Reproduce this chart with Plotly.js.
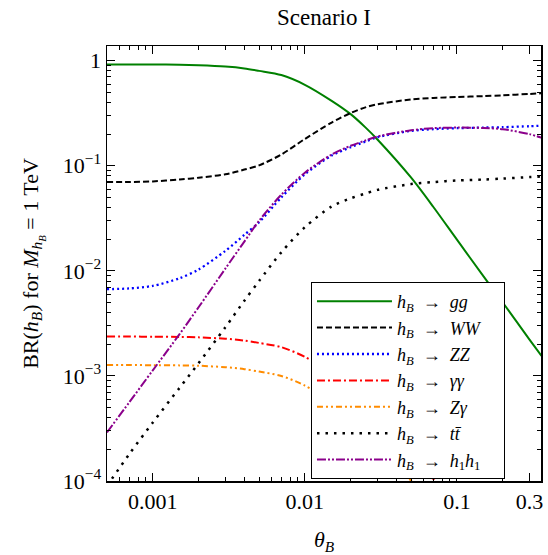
<!DOCTYPE html>
<html>
<head>
<meta charset="utf-8">
<script src="https://cdn.plot.ly/plotly-3.0.1.min.js"></script>
<style>
  html, body { margin: 0; padding: 0; background: #fff; }
  #chart { width: 548px; height: 555px; }
</style>
</head>
<body>
<div id="chart"></div>
<script>
// Mixing angle grid
const theta = [0.0005, 0.0007, 0.001, 0.0015, 0.002, 0.003, 0.004, 0.005, 0.007, 0.01,
               0.015, 0.02, 0.025, 0.03, 0.05, 0.07, 0.1, 0.15, 0.2, 0.3, 0.36];

// Branching ratios of h_B (M = 1 TeV)
const brGG   = [0.92, 0.92, 0.92, 0.915, 0.905, 0.88, 0.845, 0.80, 0.73, 0.59,
                0.415, 0.31, 0.232, 0.178, 0.077, 0.0405, 0.0198, 0.0088, 0.0050, 0.00222, 0.00155];
const brWW   = [0.070, 0.070, 0.071, 0.074, 0.077, 0.083, 0.092, 0.101, 0.128, 0.18,
                0.258, 0.318, 0.36, 0.385, 0.428, 0.442, 0.452, 0.46, 0.468, 0.483, 0.49];
const brZZ   = [0.0067, 0.0068, 0.0072, 0.0085, 0.0103, 0.0155, 0.022, 0.029, 0.050, 0.083,
                0.125, 0.15, 0.17, 0.187, 0.215, 0.223, 0.228, 0.231, 0.233, 0.238, 0.241];
const brAA   = [2.37e-3, 2.37e-3, 2.36e-3, 2.35e-3, 2.33e-3, 2.26e-3, 2.17e-3, 2.06e-3, 1.88e-3, 1.52e-3,
                1.07e-3, 8.0e-4, 6.0e-4, 4.6e-4, 1.98e-4, 1.04e-4, 5.0e-5, 2.2e-5, 1.3e-5, 5.7e-6, 4.0e-6];
const brZA   = [1.27e-3, 1.27e-3, 1.265e-3, 1.26e-3, 1.25e-3, 1.21e-3, 1.16e-3, 1.10e-3, 1.0e-3, 8.1e-4,
                5.7e-4, 4.3e-4, 3.2e-4, 2.4e-4, 1.0e-4, 5.4e-5, 2.7e-5, 1.2e-5, 7.0e-6, 3.0e-6, 2.0e-6];
const brTT   = [9.0e-5, 1.8e-4, 3.6e-4, 7.7e-4, 1.32e-3, 2.9e-3, 5.2e-3, 8.0e-3, 0.0150, 0.026,
                0.041, 0.049, 0.0545, 0.059, 0.067, 0.070, 0.0725, 0.074, 0.0755, 0.078, 0.079];
const brH1H1 = [2.9e-4, 5.6e-4, 1.13e-3, 2.5e-3, 4.5e-3, 0.0105, 0.019, 0.030, 0.053, 0.086,
                0.128, 0.155, 0.174, 0.19, 0.218, 0.228, 0.231, 0.229, 0.223, 0.200, 0.185];

const NB = '\u00a0';
const hB = '<i>h</i><sub><i>B</i></sub>';
const arrow = NB + NB + '→' + NB + NB;
const channelNames = [
  hB + arrow + '<i>gg</i>',
  hB + arrow + '<i>WW</i>',
  hB + arrow + '<i>ZZ</i>',
  hB + arrow + '<i>γγ</i>',
  hB + arrow + '<i>Zγ</i>',
  hB + arrow + '<i>tt̄</i>',
  hB + arrow + '<i>h</i><sub>1</sub><i>h</i><sub>1</sub>' + NB + NB + NB + NB
];

const xTickVals = [0.001, 0.01, 0.1, 0.3];
const xTickText = ['0.001', '0.01', '0.1', '0.3'];
const yTickVals = [1e-4, 1e-3, 1e-2, 1e-1, 1];
const yTickText = ['10<sup>−4</sup>', '10<sup>−3</sup>', '10<sup>−2</sup>', '10<sup>−1</sup>', '1'];

const series = [brGG, brWW, brZZ, brAA, brZA, brTT, brH1H1];
const lineStyles = [
  { color: '#008000', width: 2,   dash: 'solid' },
  { color: '#000000', width: 2,   dash: '6px,3px' },
  { color: '#0000ff', width: 2.3, dash: '2px,3px' },
  { color: '#ff0000', width: 2,   dash: '8px,3px,2px,3px' },
  { color: '#ff8c00', width: 2,   dash: '6px,3px,2px,3px,2px,3px' },
  { color: '#000000', width: 2.5, dash: '2.5px,6px' },
  { color: '#8b008b', width: 2,   dash: '9px,2px,2px,2px,2px,2px' }
];

const traces = series.map((ys, i) => ({
  type: 'scatter',
  mode: 'lines',
  x: theta,
  y: ys,
  name: channelNames[i],
  line: Object.assign({ shape: 'spline', smoothing: 0.8 }, lineStyles[i])
}));

// empty trace that puts the minor-tick axes on the page
traces.push({
  type: 'scatter', mode: 'lines', x: [], y: [],
  xaxis: 'x2', yaxis: 'y2', showlegend: false, hoverinfo: 'skip'
});

// minor ticks: 2..9 times each decade
function minorTicks(lo, hi) {
  const out = [];
  for (let e = lo; e <= hi; e++) {
    for (let m = 2; m <= 9; m++) out.push(m * Math.pow(10, e));
  }
  return out;
}

const FONT = 'Liberation Serif, DejaVu Serif, serif';
const X_RANGE = [Math.log10(0.0005), Math.log10(0.357)];
const Y_RANGE = [-4, 0.14];

const layout = {
  width: 548,
  height: 555,
  paper_bgcolor: '#ffffff',
  plot_bgcolor: '#ffffff',
  margin: { l: 107, r: 7, t: 46, b: 74 },
  font: { family: FONT, color: '#000', size: 21 },
  title: {
    text: 'Scenario I',
    font: { family: FONT, size: 23, color: '#000' },
    x: 0.5, xref: 'paper', xanchor: 'center',
    y: 1 - 17 / 555, yref: 'container', yanchor: 'middle'
  },
  showlegend: true,
  legend: {
    x: 0.47, y: 0.4575, xanchor: 'left', yanchor: 'top',
    bgcolor: '#ffffff', bordercolor: '#000', borderwidth: 1,
    font: { family: FONT, size: 18, color: '#000' },
    itemwidth: 75,
    tracegroupgap: 0
  },
  xaxis: {
    type: 'log', range: X_RANGE,
    tickmode: 'array', tickvals: xTickVals, ticktext: xTickText,
    ticks: 'inside', ticklen: 8, tickcolor: '#000', tickwidth: 1,
    showline: true, linecolor: '#000', linewidth: 1.5, mirror: 'allticks',
    showgrid: false, zeroline: false,
    tickfont: { family: FONT, size: 22, color: '#000' },
    title: { text: '<i>θ</i><sub><i>B</i></sub>', font: { family: FONT, size: 22, color: '#000' }, standoff: 22 }
  },
  yaxis: {
    type: 'log', range: Y_RANGE,
    tickmode: 'array', tickvals: yTickVals, ticktext: yTickText,
    ticks: 'inside', ticklen: 8, tickcolor: '#000', tickwidth: 1,
    showline: true, linecolor: '#000', linewidth: 1.5, mirror: 'allticks',
    showgrid: false, zeroline: false,
    tickfont: { family: FONT, size: 22, color: '#000' },
    title: {
      text: 'BR(' + hB + ') for <i>M</i><sub><i>h</i><sub><i>B</i></sub></sub> = 1 TeV',
      font: { family: FONT, size: 22, color: '#000' },
      standoff: 18
    }
  },
  // companion axes carrying the short minor ticks
  xaxis2: {
    type: 'log', range: X_RANGE, overlaying: 'x', anchor: 'y2', side: 'bottom',
    tickmode: 'array', tickvals: minorTicks(-4, 0),
    ticks: 'inside', ticklen: 4, tickcolor: '#000', tickwidth: 1,
    showticklabels: false, showline: true, linecolor: '#000', linewidth: 1.5, mirror: 'allticks',
    showgrid: false, zeroline: false
  },
  yaxis2: {
    type: 'log', range: Y_RANGE, overlaying: 'y', anchor: 'x2', side: 'left',
    tickmode: 'array', tickvals: minorTicks(-5, 0),
    ticks: 'inside', ticklen: 4, tickcolor: '#000', tickwidth: 1,
    showticklabels: false, showline: true, linecolor: '#000', linewidth: 1.5, mirror: 'allticks',
    showgrid: false, zeroline: false
  }
};

Plotly.newPlot('chart', traces, layout, { staticPlot: true, displayModeBar: false });
</script>
</body>
</html>
